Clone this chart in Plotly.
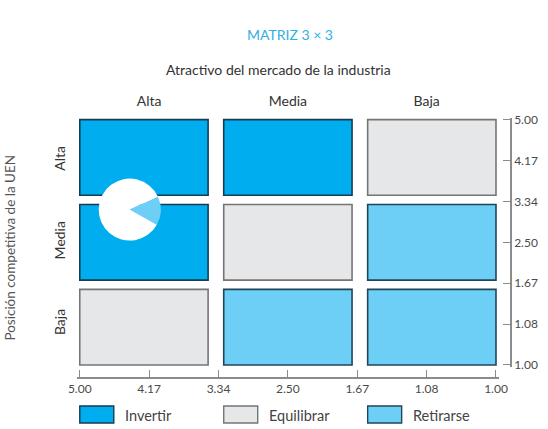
import plotly.graph_objects as go

# matriz 3 x 3: rows top->bottom = posicion competitiva Alta/Media/Baja,
# columns left->right = atractivo del mercado Alta/Media/Baja
col_labels = ["Alta", "Media", "Baja"]
row_labels = ["Alta", "Media", "Baja"]
strategy = [
    ["Invertir", "Invertir", "Equilibrar"],
    ["Invertir", "Equilibrar", "Retirarse"],
    ["Equilibrar", "Retirarse", "Retirarse"],
]
x_ticks = ["5.00", "4.17", "3.34", "2.50", "1.67", "1.08", "1.00"]
y_ticks = ["1.00", "1.08", "1.67", "2.50", "3.34", "4.17", "5.00"]
legend_names = ["Invertir", "Equilibrar", "Retirarse"]

# UEN position on the grid (grid units) and share of the pie
uen_x, uen_y = 0.72, 3.8
uen_share = [15, 85]

colors = {"Invertir": "#00aeef", "Equilibrar": "#e6e7e8", "Retirarse": "#6dcff6"}
borders = {"Invertir": "#173c52", "Equilibrar": "#757575", "Retirarse": "#1f4558"}

W, H = 548, 429
pad = 0.04
# pixel geometry of the grid
gx0, gx1 = 80, 496
gy0, gy1 = 120, 365   # top, bottom
ux = (gx1 - gx0) / 6
uy = (gy1 - gy0) / 6
L = gx0 - pad * ux
R = 511
T = gy0 - pad * uy
B = 378
pw, ph = R - L, B - T

gap = 0.15
shapes = []
for r, row in enumerate(strategy):
    for c, s in enumerate(row):
        x0 = c * 2 + c * gap / 2
        yb = (2 - r) * 2 + (2 - r) * gap / 2
        shapes.append(dict(type="rect", xref="x", yref="y",
                           x0=x0, x1=x0 + 2 - gap, y0=yb, y1=yb + 2 - gap,
                           fillcolor=colors[s], layer="below",
                           line=dict(color=borders[s], width=1.6)))

# legend swatches below the axis
for i, name in enumerate(legend_names):
    x0 = i * 2 + i * gap / 2
    shapes.append(dict(type="rect", xref="x", yref="paper",
                       x0=x0, x1=x0 + 0.49,
                       y0=(B - 423) / ph, y1=(B - 406) / ph,
                       fillcolor=colors[name],
                       line=dict(color=borders[name], width=1.4)))

fig = go.Figure()
fig.add_trace(go.Scatter(x=[0, 6], y=[0, 6], mode="markers",
                         marker=dict(opacity=0), hoverinfo="skip",
                         showlegend=False))

# pie marking the UEN
cx = gx0 + uen_x * ux
cy = gy1 - uen_y * uy
rad = 31
fig.add_trace(go.Pie(values=uen_share, sort=False, direction="clockwise",
                     rotation=65, textinfo="none", hoverinfo="skip",
                     marker=dict(colors=["#6dcff6", "#ffffff"], line=dict(width=0)),
                     domain=dict(x=[(cx - rad - L) / pw, (cx + rad - L) / pw],
                                 y=[(B - cy - rad) / ph, (B - cy + rad) / ph]),
                     showlegend=False))

font = "Lato"
tick_font = dict(family=font, size=12, color="#4a4a4a")
ax_col = "#8c8c8c"

annotations = [
    dict(text="MATRIZ 3 × 3", x=(290 - L) / pw, y=(B - 35) / ph,
         font=dict(family=font, size=14, color="#2fb0e3")),
    dict(text="Atractivo del mercado de la industria", x=(279 - L) / pw,
         y=(B - 70) / ph, font=dict(family=font, size=14, color="#333333")),
    dict(text="Posición competitiva de la UEN", x=(10 - L) / pw,
         y=(B - 248) / ph, textangle=-90,
         font=dict(family=font, size=13.5, color="#555555")),
]
for i, name in enumerate(legend_names):
    annotations.append(dict(text=name, x=i * 2 + i * gap / 2 + 0.63, xref="x",
                            y=(B - 415) / ph, xanchor="left",
                            font=dict(family=font, size=14.5, color="#444444")))
for a in annotations:
    a.setdefault("xref", "paper")
    a.setdefault("xanchor", "center")
    a["yref"] = "paper"
    a["yanchor"] = "middle"
    a["showarrow"] = False

fig.update_layout(
    width=W, height=H,
    margin=dict(l=L, r=W - R, t=T, b=H - B),
    paper_bgcolor="white", plot_bgcolor="white",
    showlegend=False,
    shapes=shapes, annotations=annotations,
    xaxis=dict(domain=[0, (gx1 + pad * ux - L) / pw], range=[-pad, 6 + pad],
               anchor="free", position=0, automargin=False,
               tickvals=list(range(7)), ticktext=x_ticks, ticks="inside",
               ticklen=7, tickcolor=ax_col, tickfont=tick_font,
               showline=True, linecolor=ax_col, linewidth=1.5,
               showgrid=False, zeroline=False),
    yaxis=dict(domain=[(B - gy1 - pad * uy) / ph, 1], range=[-pad, 6 + pad],
               side="right", anchor="free", position=1, automargin=False,
               tickvals=list(range(7)), ticktext=y_ticks, ticks="inside",
               ticklen=7, tickcolor=ax_col, tickfont=tick_font,
               showline=True, linecolor=ax_col, linewidth=1.5,
               showgrid=False, zeroline=False),
    xaxis2=dict(overlaying="x", side="top", anchor="y", matches="x",
                automargin=False,
                tickvals=[1, 3, 5], ticktext=col_labels, ticks="outside",
                ticklen=5, tickcolor="rgba(0,0,0,0)",
                tickfont=dict(family=font, size=14, color="#333333"),
                showgrid=False, zeroline=False, showline=False),
    yaxis2=dict(overlaying="y", side="left", anchor="x", matches="y",
                automargin=False,
                tickvals=[5, 3, 1], ticktext=row_labels, ticks="outside",
                ticklen=5, tickcolor="rgba(0,0,0,0)", tickangle=-90,
                tickfont=dict(family=font, size=14, color="#333333"),
                showgrid=False, zeroline=False, showline=False),
)
fig.add_trace(go.Scatter(x=[0, 6], y=[0, 6], mode="markers",
                         marker=dict(opacity=0), hoverinfo="skip",
                         showlegend=False, xaxis="x2", yaxis="y2"))

fig.write_html("out.html", config={"displayModeBar": False},
               post_script="document.body.style.margin='0';")
